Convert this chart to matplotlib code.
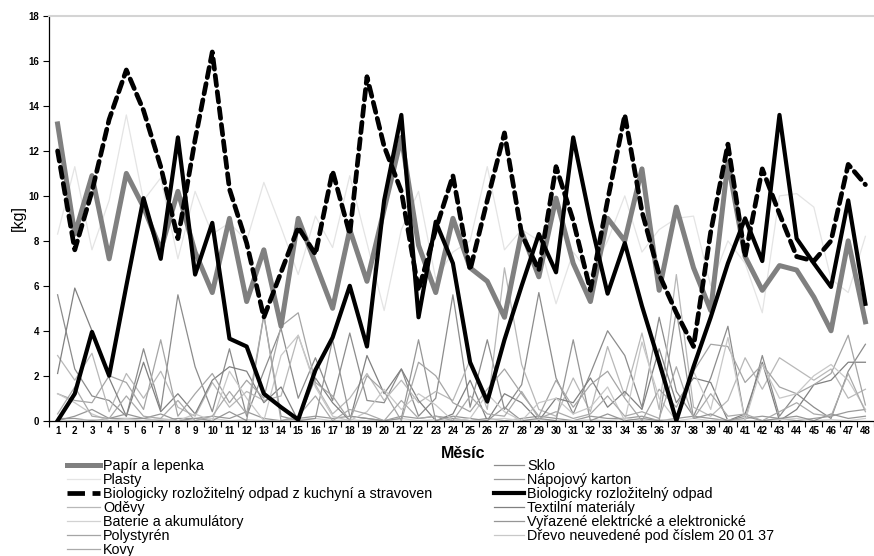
import numpy as np
import matplotlib
matplotlib.use('Agg')
import matplotlib.pyplot as plt
from matplotlib.lines import Line2D
from matplotlib import font_manager

plt.rcParams['font.family'] = ['Liberation Sans', 'DejaVu Sans']

# Data (kg per month)
months = list(range(1, 49))

papir = [13.2, 8.3, 10.9, 7.2, 11.0, 9.5, 7.6, 10.2, 7.5, 5.7, 9.0, 5.3, 7.6, 4.2, 9.0, 7.0,
         5.0, 8.5, 6.2, 9.4, 12.6, 7.8, 5.7, 9.0, 6.8, 6.2, 4.6, 8.4, 6.4, 9.9, 7.0, 5.3,
         9.0, 8.0, 11.2, 5.8, 9.5, 6.8, 4.9, 11.5, 7.3, 5.8, 6.9, 6.7, 5.5, 4.0, 8.0, 4.4]
kuchyne = [12.0, 7.6, 10.2, 13.4, 15.6, 13.8, 11.3, 8.1, 12.5, 16.4, 10.3, 7.9, 4.6, 6.6, 8.6, 7.4,
           11.1, 8.3, 15.3, 12.2, 10.2, 5.8, 8.5, 10.9, 6.7, 9.8, 12.8, 8.3, 6.7, 11.3, 8.9, 5.8,
           9.8, 13.6, 9.3, 6.5, 4.8, 3.3, 8.4, 12.3, 7.3, 11.2, 9.2, 7.3, 7.1, 8.0, 11.4, 10.5]
bio = [0.0, 1.2, 3.95, 2.0, 6.0, 9.9, 7.2, 12.6, 6.5, 8.8, 3.65, 3.3, 1.2, 0.6, 0.05, 2.25,
       3.7, 6.0, 3.3, 9.8, 13.6, 4.6, 8.85, 7.0, 2.6, 0.85, 3.6, 6.0, 8.3, 6.6, 12.6, 8.9,
       5.65, 7.9, 5.1, 2.6, 0.0, 2.4, 4.6, 7.0, 9.0, 7.1, 13.6, 8.1, 7.0, 5.95, 9.8, 5.2]
plasty = [8.3, 11.3, 7.6, 9.8, 13.6, 9.8, 10.8, 7.2, 10.2, 8.3, 8.8, 8.0, 10.6, 8.6, 6.5, 9.1,
          7.7, 10.9, 7.9, 4.9, 8.5, 10.2, 6.3, 7.5, 8.0, 11.3, 7.6, 8.5, 8.0, 5.2, 7.5, 6.5,
          8.0, 10.0, 7.5, 8.5, 9.0, 9.1, 6.0, 8.0, 7.0, 4.8, 10.0, 10.1, 9.5, 6.3, 5.7, 8.2]
sklo = [5.6, 2.3, 1.1, 0.9, 0.2, 3.2, 0.5, 5.6, 2.4, 0.4, 3.2, 0.2, 2.2, 4.1, 1.0, 2.8,
        0.9, 3.9, 0.9, 0.8, 2.3, 0.2, 1.0, 5.6, 0.6, 3.6, 0.5, 1.6, 5.7, 1.9, 0.3, 2.1,
        4.0, 2.9, 0.6, 4.6, 1.3, 0.2, 1.9, 4.2, 0.0, 2.9, 0.2, 1.2, 0.6, 0.1, 2.2, 3.4]
karton = [0.1, 0.1, 0.0, 0.1, 0.1, 0.1, 0.0, 0.1, 0.1, 0.2, 0.1, 0.4, 0.1, 0.0, 0.1, 0.2,
          0.1, 0.2, 0.1, 0.0, 0.2, 0.1, 0.2, 0.1, 0.0, 0.1, 0.0, 0.1, 0.2, 0.1, 0.0, 0.2,
          0.1, 0.1, 0.2, 0.0, 0.1, 0.2, 0.1, 0.0, 0.1, 0.2, 0.1, 0.0, 0.1, 0.2, 0.4, 0.5]
odevy = [2.9, 1.8, 3.0, 0.4, 2.1, 1.0, 2.2, 0.6, 0.2, 1.7, 0.6, 1.3, 0.9, 1.1, 3.8, 1.6,
         0.3, 1.0, 2.1, 0.9, 1.8, 0.8, 1.3, 0.9, 2.7, 0.5, 6.8, 2.5, 0.5, 0.2, 1.9, 0.4,
         3.3, 1.1, 3.9, 0.5, 6.5, 0.6, 0.2, 0.9, 2.8, 1.4, 2.8, 2.3, 1.8, 2.3, 1.0, 1.4]
textil = [2.1, 5.9, 4.0, 1.9, 0.2, 2.6, 0.4, 1.2, 0.3, 1.8, 2.4, 2.2, 0.8, 1.5, 0.0, 1.9,
          0.8, 0.0, 2.9, 1.2, 2.3, 0.9, 0.0, 0.3, 1.8, 0.0, 1.2, 0.8, 0.0, 1.0, 0.8, 1.9,
          0.6, 1.3, 0.5, 3.2, 0.8, 1.9, 1.7, 0.0, 0.3, 2.6, 0.0, 0.5, 1.6, 1.8, 2.6, 2.6]
baterie = [0.05, 0.0, 0.05, 0.0, 0.05, 0.0, 0.05, 0.0, 0.0, 0.1, 0.0, 0.05, 0.0, 0.0, 0.05, 0.1,
           0.0, 0.05, 0.0, 0.0, 0.1, 0.0, 0.05, 0.0, 0.0, 0.05, 0.1, 0.0, 0.05, 0.0, 0.0, 0.05,
           0.0, 0.1, 0.0, 0.05, 0.0, 0.1, 0.0, 0.05, 0.0, 0.0, 0.05, 0.1, 0.0, 0.05, 0.0, 0.1]
vyrazene = [0.0, 0.2, 0.5, 0.1, 0.3, 0.1, 0.3, 0.0, 0.1, 0.0, 0.4, 0.0, 4.7, 0.2, 0.0, 0.1,
            3.6, 0.2, 0.1, 0.0, 0.1, 3.6, 0.0, 0.2, 0.1, 0.0, 0.6, 0.0, 0.1, 0.0, 3.6, 0.0,
            0.3, 0.0, 0.1, 0.0, 4.9, 0.1, 0.3, 0.0, 0.2, 0.0, 0.1, 0.2, 0.0, 0.3, 0.1, 0.2]
polystyren = [1.2, 0.9, 0.8, 2.0, 1.7, 0.5, 3.6, 0.2, 1.2, 2.1, 0.8, 1.8, 1.0, 4.2, 4.8, 1.7,
              1.1, 0.0, 2.0, 1.3, 0.0, 2.6, 2.0, 0.8, 0.4, 1.4, 2.3, 1.2, 0.2, 1.8, 0.6, 1.6,
              2.2, 1.0, 0.0, 1.4, 0.6, 2.2, 3.4, 3.3, 1.7, 2.5, 1.5, 1.2, 1.6, 2.1, 3.8, 0.7]
drevo = [1.2, 0.8, 0.3, 0.0, 0.1, 0.0, 0.1, 0.0, 0.3, 0.0, 2.2, 1.0, 0.0, 2.9, 3.8, 1.5,
         0.2, 0.0, 0.4, 1.4, 0.5, 1.2, 0.7, 0.0, 0.1, 1.2, 0.4, 0.0, 0.8, 1.0, 0.3, 0.6,
         1.5, 0.0, 3.5, 1.0, 0.0, 2.2, 0.5, 3.7, 0.0, 2.5, 1.0, 1.2, 2.0, 2.5, 1.8, 0.5]
kovy = [0.3, 1.5, 0.2, 0.1, 1.1, 0.2, 0.1, 0.9, 0.0, 0.2, 1.3, 0.3, 4.7, 0.0, 0.2, 1.1,
        0.0, 0.5, 0.3, 0.0, 0.9, 0.1, 0.2, 0.0, 1.1, 0.3, 0.2, 1.3, 0.1, 0.4, 0.1, 0.3,
        1.1, 0.2, 0.4, 0.1, 2.4, 0.1, 1.2, 0.2, 0.3, 0.0, 0.4, 0.8, 0.3, 0.2, 2.1, 0.4]

W, H = 874, 556
fig = plt.figure(figsize=(W / 100, H / 100), dpi=100)
ax = fig.add_axes([49 / W, 1 - 420.7 / H, 1 - 49 / W, (420.7 - 16) / H])

# thin series
thin = [
    (plasty, '#e4e4e4', 'Plasty'),
    (sklo, '#8c8c8c', 'Sklo'),
    (karton, '#9a9a9a', 'Nápojový karton'),
    (odevy, '#b8b8b8', 'Oděvy'),
    (textil, '#808080', 'Textilní materiály'),
    (baterie, '#d2d2d2', 'Baterie a akumulátory'),
    (vyrazene, '#969696', 'Vyřazené elektrické a elektronické'),
    (polystyren, '#a5a5a5', 'Polystyrén'),
    (drevo, '#c8c8c8', 'Dřevo neuvedené pod číslem 20 01 37'),
    (kovy, '#aaaaaa', 'Kovy'),
]
h = {}
for vals, col, lab in thin:
    h[lab], = ax.plot(months, vals, color=col, lw=0.9, zorder=2)

h['Papír a lepenka'], = ax.plot(months, papir, color='#808080', lw=3.6, zorder=3)
h['Biologicky rozložitelný odpad z kuchyní a stravoven'], = ax.plot(
    months, kuchyne, color='black', lw=3.4, ls=(0, (2.2, 1.3)), dash_capstyle='round', zorder=4)
h['Biologicky rozložitelný odpad'], = ax.plot(months, bio, color='black', lw=3.0, zorder=5)

ax.set_xlim(0.5, 48.5)
ax.set_ylim(0, 18)
ax.set_yticks(np.arange(0, 19, 2))
ax.set_xticks(np.arange(0.5, 49, 1))
ax.set_xticklabels([])
ax.set_xticks(months, minor=True)
ax.set_xticklabels([str(m) for m in months], minor=True)
ax.tick_params(axis='x', which='major', length=4, width=0.8, direction='out')
ax.tick_params(axis='x', which='minor', length=0, labelsize=7, pad=4)
ax.tick_params(axis='y', length=4, width=0.8, labelsize=7, pad=3)
for t in ax.get_xticklabels(minor=True) + ax.get_yticklabels():
    t.set_fontweight('bold')

ax.spines['right'].set_visible(False)
ax.spines['top'].set_color('#d4d4d4')
ax.spines['top'].set_linewidth(1.5)
ax.spines['left'].set_linewidth(0.9)
ax.spines['bottom'].set_linewidth(0.9)

ax.set_ylabel('[kg]', fontsize=11.5, labelpad=2)
fig.text(463 / W, 1 - 453 / H, 'Měsíc', fontsize=11.5, fontweight='bold', ha='center', va='center')

# legend, two columns laid out like the original
left = ['Papír a lepenka', 'Plasty', 'Biologicky rozložitelný odpad z kuchyní a stravoven',
        'Oděvy', 'Baterie a akumulátory', 'Polystyrén', 'Kovy']
right = ['Sklo', 'Nápojový karton', 'Biologicky rozložitelný odpad', 'Textilní materiály',
         'Vyřazené elektrické a elektronické', 'Dřevo neuvedené pod číslem 20 01 37']

names = {f.name for f in font_manager.fontManager.ttflist}
leg_family = ['Liberation Sans Narrow', 'Liberation Sans'] if 'Liberation Sans Narrow' in names \
    else ['Liberation Sans', 'DejaVu Sans']

# fit legend font so the longest label spans like the original (~338 px)
renderer = fig.canvas.get_renderer()
probe = fig.text(0, 0, left[2], fontsize=10, family=leg_family)
leg_size = 10 * 330 / probe.get_window_extent(renderer).width
probe.remove()

row0, pitch = 464.5, 14.0
cols = [(left, 67, 100, 103), (right, 494, 524, 527)]
for labels, x0, x1, xt in cols:
    for i, lab in enumerate(labels):
        y = 1 - (row0 + i * pitch) / H
        src = h[lab]
        fig.add_artist(Line2D([x0 / W, x1 / W], [y, y], transform=fig.transFigure,
                              color=src.get_color(), lw=src.get_linewidth(),
                              ls=src.get_linestyle(), dash_capstyle='butt'))
        fig.text(xt / W, y, lab, fontsize=leg_size, family=leg_family, va='center_baseline')

fig.savefig('out.png', dpi=100)
